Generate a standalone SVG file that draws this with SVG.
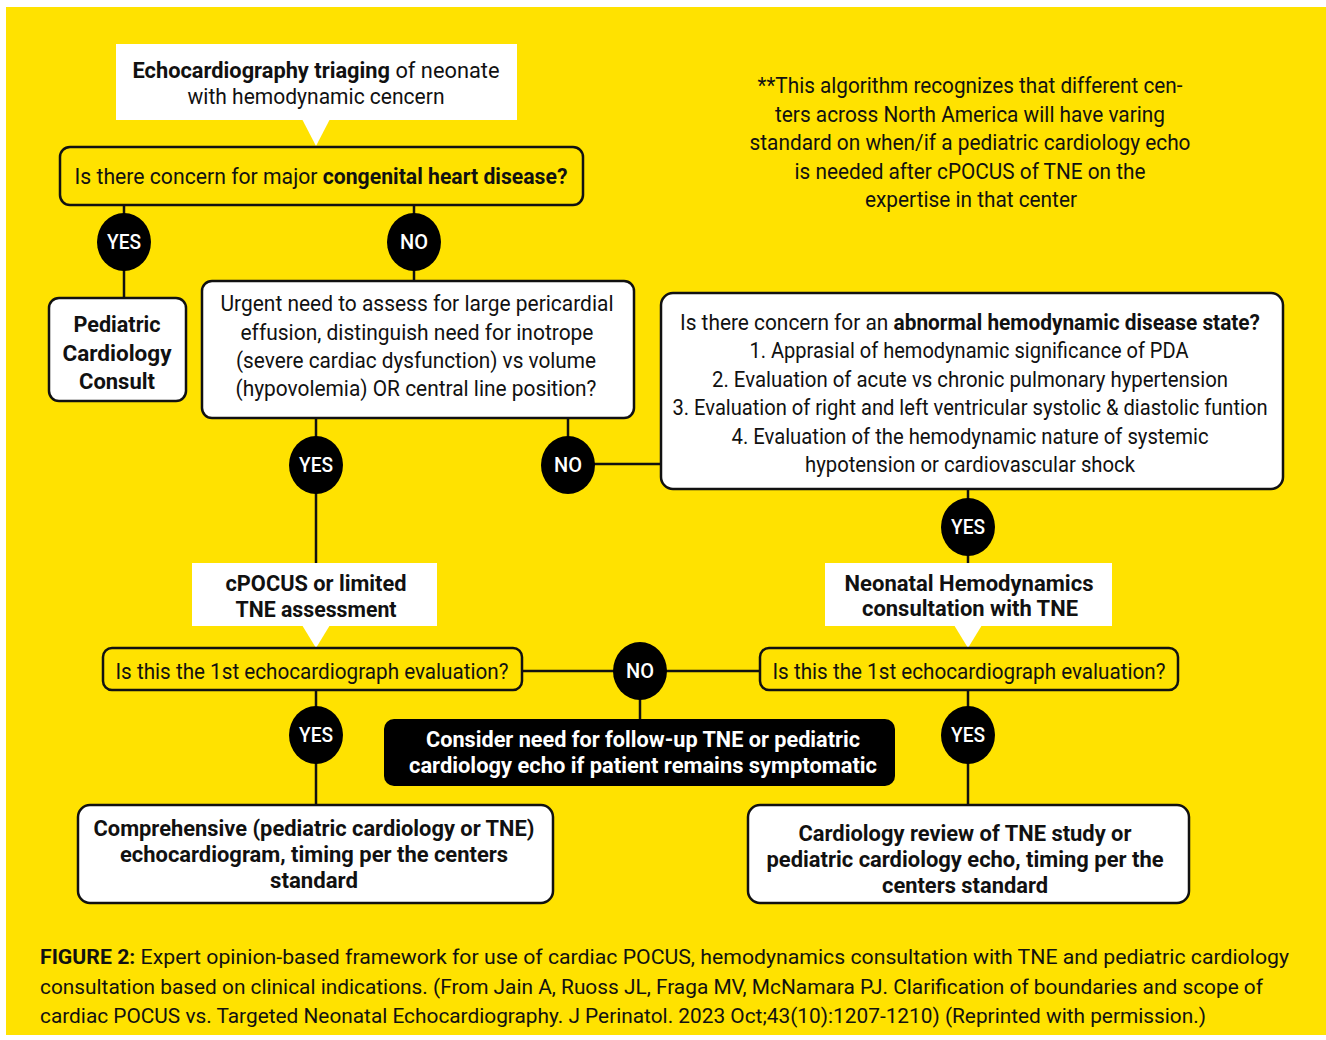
<svg xmlns="http://www.w3.org/2000/svg" width="1326" height="1040" viewBox="0 0 1326 1040">
<style>
text{font-family:Roboto,"Liberation Sans",sans-serif;font-size:22px;fill:#111;text-anchor:middle}
.b{font-weight:bold}
.w{fill:#fff}
.cap{text-anchor:start;font-size:21px}
.box{fill:#fff;stroke:#111;stroke-width:2.5}
.q{fill:#FFE200;stroke:#111;stroke-width:2.5}
.dark{fill:#000}
.call{fill:#fff}
.ln{stroke:#111;stroke-width:2.5;fill:none}
.yn{fill:#000}
.lab{fill:#fff;font-size:20px;font-weight:500}
</style>
<rect x="0" y="0" width="1326" height="1040" fill="#fff"/>
<rect x="6" y="7" width="1320" height="1028" fill="#FFE200"/>

<g id="connectors">
<line class="ln" x1="124" y1="205" x2="124" y2="298"/>
<line class="ln" x1="414" y1="205" x2="414" y2="281"/>
<line class="ln" x1="316" y1="418" x2="316" y2="563"/>
<line class="ln" x1="568" y1="418" x2="568" y2="465"/>
<line class="ln" x1="568" y1="464" x2="661" y2="464"/>
<line class="ln" x1="968" y1="489" x2="968" y2="563"/>
<line class="ln" x1="522" y1="671" x2="760" y2="671"/>
<line class="ln" x1="640" y1="671" x2="640" y2="719"/>
<line class="ln" x1="316" y1="690" x2="316" y2="805"/>
<line class="ln" x1="968" y1="690" x2="968" y2="805"/>
</g>

<g id="n-triage">
<rect class="call" x="116" y="44" width="401" height="76"/>
<polygon class="call" points="302,119 330,119 316,146"/>
<text x="316" y="78" textLength="367" lengthAdjust="spacingAndGlyphs"><tspan class="b">Echocardiography triaging</tspan> of neonate</text>
<text x="316" y="104" textLength="257" lengthAdjust="spacingAndGlyphs">with hemodynamic cencern</text>
</g>

<g id="n-congenital">
<rect class="q" x="60" y="147" width="523" height="58" rx="10"/>
<text x="321" y="184" textLength="493" lengthAdjust="spacingAndGlyphs">Is there concern for major <tspan class="b">congenital heart disease?</tspan></text>
</g>

<g id="n-yes1"><ellipse class="yn" cx="124" cy="242" rx="27" ry="29"/><text class="lab" x="124" y="249" textLength="34" lengthAdjust="spacingAndGlyphs">YES</text></g>
<g id="n-no1"><ellipse class="yn" cx="414" cy="242" rx="27" ry="29"/><text class="lab" x="414" y="249" textLength="28" lengthAdjust="spacingAndGlyphs">NO</text></g>

<g id="n-pedcard">
<rect class="box" x="49" y="298" width="137" height="103" rx="10"/>
<text class="b" x="117" y="332" textLength="87" lengthAdjust="spacingAndGlyphs">Pediatric</text>
<text class="b" x="117" y="361" textLength="109" lengthAdjust="spacingAndGlyphs">Cardiology</text>
<text class="b" x="117" y="389" textLength="76" lengthAdjust="spacingAndGlyphs">Consult</text>
</g>

<g id="n-urgent">
<rect class="box" x="202" y="281" width="432" height="137" rx="10"/>
<text x="417" y="311" textLength="393" lengthAdjust="spacingAndGlyphs">Urgent need to assess for large pericardial</text>
<text x="417" y="340" textLength="353" lengthAdjust="spacingAndGlyphs">effusion, distinguish need for inotrope</text>
<text x="416" y="368" textLength="360" lengthAdjust="spacingAndGlyphs">(severe cardiac dysfunction) vs volume</text>
<text x="416" y="396" textLength="361" lengthAdjust="spacingAndGlyphs">(hypovolemia) OR central line position?</text>
</g>

<g id="n-yes2"><ellipse class="yn" cx="316" cy="465" rx="27" ry="29"/><text class="lab" x="316" y="472" textLength="34" lengthAdjust="spacingAndGlyphs">YES</text></g>
<g id="n-no2"><ellipse class="yn" cx="568" cy="465" rx="27" ry="29"/><text class="lab" x="568" y="472" textLength="28" lengthAdjust="spacingAndGlyphs">NO</text></g>

<g id="n-abnormal">
<rect class="box" x="661" y="293" width="622" height="196" rx="12"/>
<text x="970" y="330" textLength="580" lengthAdjust="spacingAndGlyphs">Is there concern for an <tspan class="b">abnormal hemodynamic disease state?</tspan></text>
<text x="969" y="358" textLength="439" lengthAdjust="spacingAndGlyphs">1. Apprasial of hemodynamic significance of PDA</text>
<text x="970" y="387" textLength="516" lengthAdjust="spacingAndGlyphs">2. Evaluation of acute vs chronic pulmonary hypertension</text>
<text x="970" y="415" textLength="595" lengthAdjust="spacingAndGlyphs">3. Evaluation of right and left ventricular systolic &amp; diastolic funtion</text>
<text x="970" y="444" textLength="477" lengthAdjust="spacingAndGlyphs">4. Evaluation of the hemodynamic nature of systemic</text>
<text x="970" y="472" textLength="330" lengthAdjust="spacingAndGlyphs">hypotension or cardiovascular shock</text>
</g>

<g id="n-yes3"><ellipse class="yn" cx="968" cy="527" rx="27" ry="29"/><text class="lab" x="968" y="534" textLength="34" lengthAdjust="spacingAndGlyphs">YES</text></g>

<g id="n-cpocus">
<rect class="call" x="192" y="563" width="245" height="63"/>
<polygon class="call" points="302,625 330,625 316,648"/>
<text class="b" x="316" y="591" textLength="181" lengthAdjust="spacingAndGlyphs">cPOCUS or limited</text>
<text class="b" x="316" y="617" textLength="161" lengthAdjust="spacingAndGlyphs">TNE assessment</text>
</g>

<g id="n-neonatal">
<rect class="call" x="825" y="563" width="287" height="63"/>
<polygon class="call" points="954,625 982,625 968,648"/>
<text class="b" x="969" y="591" textLength="249" lengthAdjust="spacingAndGlyphs">Neonatal Hemodynamics</text>
<text class="b" x="970" y="616" textLength="216" lengthAdjust="spacingAndGlyphs">consultation with TNE</text>
</g>

<g id="n-first-left">
<rect class="q" x="103" y="648" width="419" height="42" rx="9"/>
<text x="312" y="679" textLength="393" lengthAdjust="spacingAndGlyphs">Is this the 1st echocardiograph evaluation?</text>
</g>

<g id="n-first-right">
<rect class="q" x="760" y="648" width="418" height="42" rx="9"/>
<text x="969" y="679" textLength="393" lengthAdjust="spacingAndGlyphs">Is this the 1st echocardiograph evaluation?</text>
</g>

<g id="n-no3"><ellipse class="yn" cx="640" cy="671" rx="27" ry="29"/><text class="lab" x="640" y="678" textLength="28" lengthAdjust="spacingAndGlyphs">NO</text></g>

<g id="n-followup">
<rect class="dark" x="384" y="719" width="511" height="67" rx="10"/>
<text class="b w" x="643" y="747" textLength="434" lengthAdjust="spacingAndGlyphs">Consider need for follow-up TNE or pediatric</text>
<text class="b w" x="643" y="773" textLength="468" lengthAdjust="spacingAndGlyphs">cardiology echo if patient remains symptomatic</text>
</g>

<g id="n-yes4"><ellipse class="yn" cx="316" cy="735" rx="27" ry="29"/><text class="lab" x="316" y="742" textLength="34" lengthAdjust="spacingAndGlyphs">YES</text></g>
<g id="n-yes5"><ellipse class="yn" cx="968" cy="735" rx="27" ry="29"/><text class="lab" x="968" y="742" textLength="34" lengthAdjust="spacingAndGlyphs">YES</text></g>

<g id="n-comprehensive">
<rect class="box" x="78" y="805" width="475" height="98" rx="12"/>
<text class="b" x="314" y="836" textLength="441" lengthAdjust="spacingAndGlyphs">Comprehensive (pediatric cardiology or TNE)</text>
<text class="b" x="314" y="862" textLength="388" lengthAdjust="spacingAndGlyphs">echocardiogram, timing per the centers</text>
<text class="b" x="314" y="888" textLength="88" lengthAdjust="spacingAndGlyphs">standard</text>
</g>

<g id="n-review">
<rect class="box" x="748" y="805" width="441" height="98" rx="12"/>
<text class="b" x="965" y="841" textLength="333" lengthAdjust="spacingAndGlyphs">Cardiology review of TNE study or</text>
<text class="b" x="965" y="867" textLength="397" lengthAdjust="spacingAndGlyphs">pediatric cardiology echo, timing per the</text>
<text class="b" x="965" y="893" textLength="166" lengthAdjust="spacingAndGlyphs">centers standard</text>
</g>

<g id="note">
<text x="970" y="93" textLength="425" lengthAdjust="spacingAndGlyphs">**This algorithm recognizes that different cen-</text>
<text x="970" y="122" textLength="390" lengthAdjust="spacingAndGlyphs">ters across North America will have varing</text>
<text x="970" y="150" textLength="441" lengthAdjust="spacingAndGlyphs">standard on when/if a pediatric cardiology echo</text>
<text x="970" y="179" textLength="351" lengthAdjust="spacingAndGlyphs">is needed after cPOCUS of TNE on the</text>
<text x="971" y="207" textLength="212" lengthAdjust="spacingAndGlyphs">expertise in that center</text>
</g>

<g id="caption">
<text class="cap" x="40" y="964" textLength="1249" lengthAdjust="spacingAndGlyphs"><tspan class="b">FIGURE 2:</tspan> Expert opinion-based framework for use of cardiac POCUS, hemodynamics consultation with TNE and pediatric cardiology</text>
<text class="cap" x="40" y="994" textLength="1223" lengthAdjust="spacingAndGlyphs">consultation based on clinical indications. (From Jain A, Ruoss JL, Fraga MV, McNamara PJ. Clarification of boundaries and scope of</text>
<text class="cap" x="40" y="1023" textLength="1166" lengthAdjust="spacingAndGlyphs">cardiac POCUS vs. Targeted Neonatal Echocardiography. J Perinatol. 2023 Oct;43(10):1207-1210) (Reprinted with permission.)</text>
</g>
</svg>
